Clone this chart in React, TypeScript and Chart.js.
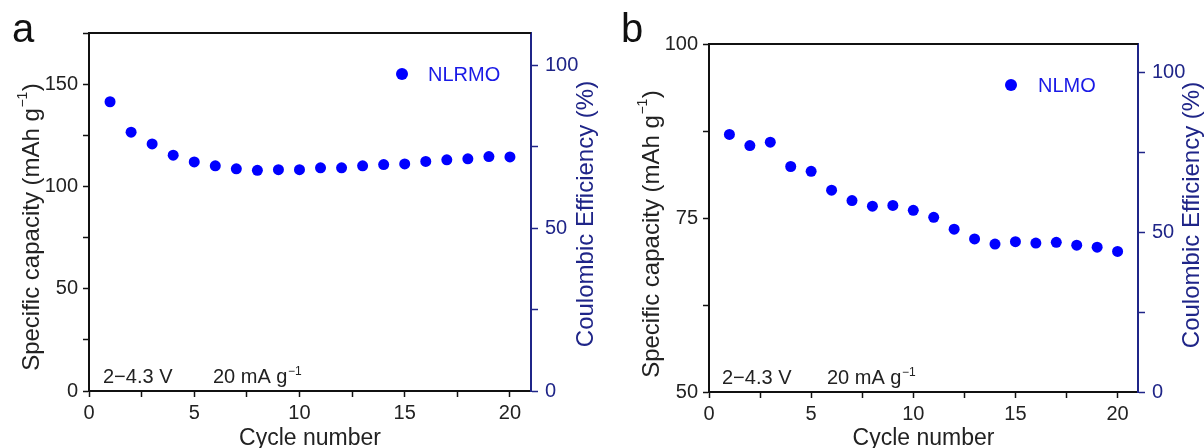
import React, { useEffect, useRef } from "react";
import { Chart, registerables } from "chart.js";

Chart.register(...registerables);

// ---------- data ----------
const cycles = [1, 2, 3, 4, 5, 6, 7, 8, 9, 10, 11, 12, 13, 14, 15, 16, 17, 18, 19, 20];
const capacityNLRMO = [141.4, 126.5, 120.8, 115.3, 112.0, 110.1, 108.6, 107.9, 108.2, 108.2, 109.1, 109.1, 110.1, 110.7, 111.0, 112.2, 113.0, 113.5, 114.6, 114.4];
const capacityNLMO = [87.0, 85.4, 85.9, 82.4, 81.7, 79.0, 77.5, 76.7, 76.8, 76.1, 75.1, 73.4, 72.0, 71.25, 71.6, 71.4, 71.5, 71.1, 70.8, 70.2];
const xTickLabels = [0, 5, 10, 15, 20];
const capTickLabelsA = [0, 50, 100, 150];
const capTickLabelsB = [50, 75, 100];
const ceTickLabels = [0, 50, 100];

const FONT = "'Liberation Sans', Arial, Helvetica, sans-serif";
const BLUE = "#0000ff";
const LEGEND_BLUE = "#1a1ae6";
const NAVY = "#1f2588";
const TEXT = "#222222";

type Panel = {
  letter: string;
  letterX: number;
  name: string;
  values: number[];
  yMin: number;
  yMax: number;
  yStep: number;
  yLabels: number[];
  y1Max: number;
  leftWidth: number;
  rightWidth: number;
  top: number;
  bottomHeight: number;
  leftTitleX: number;
  leftTitleY: number;
  rightTitleX: number;
  rightTitleY: number;
  legX: number;
  legY: number;
  legTextX: number;
  ann1X: number;
  ann2X: number;
  annY: number;
  width: number;
};

const panels: Panel[] = [
  {
    letter: "a", letterX: 12, name: "NLRMO", values: capacityNLRMO,
    yMin: 0, yMax: 175, yStep: 25, yLabels: capTickLabelsA, y1Max: 110,
    leftWidth: 89, rightWidth: 69, top: 33, bottomHeight: 57,
    leftTitleX: 32, leftTitleY: 227, rightTitleX: 586, rightTitleY: 214,
    legX: 402, legY: 74, legTextX: 428, ann1X: 103, ann2X: 213, annY: 383, width: 600,
  },
  {
    letter: "b", letterX: 21, name: "NLMO", values: capacityNLMO,
    yMin: 50, yMax: 100, yStep: 12.5, yLabels: capTickLabelsB, y1Max: 109,
    leftWidth: 109, rightWidth: 66, top: 44, bottomHeight: 56,
    leftTitleX: 52, leftTitleY: 234, rightTitleX: 592, rightTitleY: 215,
    legX: 411, legY: 85, legTextX: 438, ann1X: 122, ann2X: 227, annY: 384, width: 604,
  },
];

function textWithSup(ctx: CanvasRenderingContext2D, x: number, y: number, main: string, sup: string, after: string, size: number, supSize: number, raise: number, measureOnly = false): number {
  ctx.font = `${size}px ${FONT}`;
  const w1 = ctx.measureText(main).width;
  ctx.font = `${supSize}px ${FONT}`;
  const w2 = ctx.measureText(sup).width;
  ctx.font = `${size}px ${FONT}`;
  const w3 = after ? ctx.measureText(after).width : 0;
  if (measureOnly) return w1 + w2 + w3 + 1;
  ctx.font = `${size}px ${FONT}`;
  ctx.fillText(main, x, y);
  ctx.font = `${supSize}px ${FONT}`;
  ctx.fillText(sup, x + w1 + 0.5, y - raise);
  if (after) {
    ctx.font = `${size}px ${FONT}`;
    ctx.fillText(after, x + w1 + w2 + 1, y);
  }
  return w1 + w2 + w3 + 1;
}

function makeDeco(p: Panel) {
  return {
    id: "deco" + p.letter,
    afterDraw(chart: any) {
      const ctx: CanvasRenderingContext2D = chart.ctx;
      const a = chart.chartArea;
      ctx.save();
      // top frame line
      ctx.strokeStyle = "#111";
      ctx.lineWidth = 2;
      ctx.beginPath();
      ctx.moveTo(a.left - 1, a.top);
      ctx.lineTo(a.right, a.top);
      ctx.stroke();

      ctx.textAlign = "left";
      ctx.textBaseline = "alphabetic";
      // panel letter
      ctx.fillStyle = "#111";
      ctx.font = `40px ${FONT}`;
      ctx.fillText(p.letter, p.letterX, 42);

      // x title
      ctx.fillStyle = TEXT;
      ctx.font = `23px ${FONT}`;
      ctx.textAlign = "center";
      ctx.fillText("Cycle number", (a.left + a.right) / 2, 445);
      ctx.textAlign = "left";

      // left y title (rotated) with superscript
      ctx.save();
      ctx.translate(p.leftTitleX, p.leftTitleY);
      ctx.rotate(-Math.PI / 2);
      ctx.fillStyle = TEXT;
      ctx.textBaseline = "middle";
      const wl = textWithSup(ctx, 0, 0, "Specific capacity (mAh g", "\u22121", ")", 24, 14, 9, true);
      textWithSup(ctx, -wl / 2, 0, "Specific capacity (mAh g", "\u22121", ")", 24, 14, 9);
      ctx.restore();

      // right y title (rotated)
      ctx.save();
      ctx.translate(p.rightTitleX, p.rightTitleY);
      ctx.rotate(-Math.PI / 2);
      ctx.fillStyle = NAVY;
      ctx.textBaseline = "middle";
      ctx.textAlign = "center";
      ctx.font = `24px ${FONT}`;
      ctx.fillText("Coulombic Efficiency (%)", 0, 0);
      ctx.restore();

      // legend
      ctx.fillStyle = BLUE;
      ctx.beginPath();
      ctx.arc(p.legX, p.legY, 6, 0, Math.PI * 2);
      ctx.fill();
      ctx.fillStyle = LEGEND_BLUE;
      ctx.font = `20px ${FONT}`;
      ctx.textBaseline = "middle";
      ctx.fillText(p.name, p.legTextX, p.legY + 1);

      // annotations
      ctx.textBaseline = "alphabetic";
      ctx.fillStyle = TEXT;
      ctx.font = `20px ${FONT}`;
      ctx.fillText("2\u22124.3 V", p.ann1X, p.annY);
      textWithSup(ctx, p.ann2X, p.annY, "20 mA g", "\u22121", "", 20, 12, 8);
      ctx.restore();
    },
  };
}

function makeConfig(p: Panel): any {
  const keepSteps = (step: number) => (scale: any) => {
    scale.ticks = scale.ticks.filter((t: any) => Math.abs(t.value / step - Math.round(t.value / step)) < 1e-6);
  };
  return {
    type: "scatter",
    data: {
      datasets: [
        {
          label: p.name,
          data: cycles.map((c, i) => ({ x: c, y: p.values[i] })),
          backgroundColor: BLUE,
          borderColor: BLUE,
          borderWidth: 0,
          pointRadius: 5.5,
          pointHoverRadius: 5.5,
          yAxisID: "y",
          clip: false,
        },
      ],
    },
    options: {
      responsive: false,
      animation: false,
      events: [],
      layout: { padding: { top: p.top, left: 0, right: 0, bottom: 0 } },
      plugins: { legend: { display: false }, tooltip: { enabled: false } },
      scales: {
        x: {
          type: "linear",
          position: "bottom",
          min: 0,
          max: 21,
          ticks: {
            stepSize: 2.5,
            includeBounds: false,
            autoSkip: false,
            maxRotation: 0,
            padding: 4,
            color: TEXT,
            font: { family: FONT, size: 20 },
            callback: (v: number) => (xTickLabels.includes(v) ? String(v) : ""),
          },
          afterBuildTicks: keepSteps(2.5),
          afterFit: (s: any) => { s.height = p.bottomHeight; },
          grid: { drawOnChartArea: false, drawTicks: true, tickLength: 6, tickColor: "#111", tickWidth: 1.5 },
          border: { display: true, color: "#111", width: 2 },
        },
        y: {
          type: "linear",
          position: "left",
          min: p.yMin,
          max: p.yMax,
          ticks: {
            stepSize: p.yStep,
            includeBounds: false,
            autoSkip: false,
            padding: 5,
            color: TEXT,
            font: { family: FONT, size: 20 },
            callback: (v: number) => (p.yLabels.includes(v) ? String(v) : ""),
          },
          afterBuildTicks: keepSteps(p.yStep),
          afterFit: (s: any) => { s.width = p.leftWidth; },
          grid: { drawOnChartArea: false, drawTicks: true, tickLength: 6, tickColor: "#111", tickWidth: 1.5 },
          border: { display: true, color: "#111", width: 2 },
        },
        y1: {
          type: "linear",
          position: "right",
          min: 0,
          max: p.y1Max,
          ticks: {
            stepSize: 25,
            includeBounds: false,
            autoSkip: false,
            padding: 7,
            color: NAVY,
            font: { family: FONT, size: 20 },
            callback: (v: number) => (ceTickLabels.includes(v) ? String(v) : ""),
          },
          afterBuildTicks: keepSteps(25),
          afterFit: (s: any) => { s.width = p.rightWidth; },
          grid: { drawOnChartArea: false, drawTicks: true, tickLength: 7, tickColor: NAVY, tickWidth: 1.5 },
          border: { display: true, color: NAVY, width: 2 },
        },
      },
    },
    plugins: [makeDeco(p)],
  };
}

function PanelChart({ p, left }: { p: Panel; left: number }) {
  const ref = useRef<HTMLCanvasElement | null>(null);
  useEffect(() => {
    if (!ref.current) return;
    const chart = new Chart(ref.current, makeConfig(p));
    return () => chart.destroy();
  }, [p]);
  return (
    <canvas
      ref={ref}
      width={p.width}
      height={448}
      style={{ position: "absolute", left, top: 0, width: p.width, height: 448 }}
    />
  );
}

export default function App() {
  return (
    <div style={{ position: "absolute", left: 0, top: 0, width: 1204, height: 448, background: "#fff", overflow: "hidden" }}>
      <PanelChart p={panels[0]} left={0} />
      <PanelChart p={panels[1]} left={600} />
    </div>
  );
}
